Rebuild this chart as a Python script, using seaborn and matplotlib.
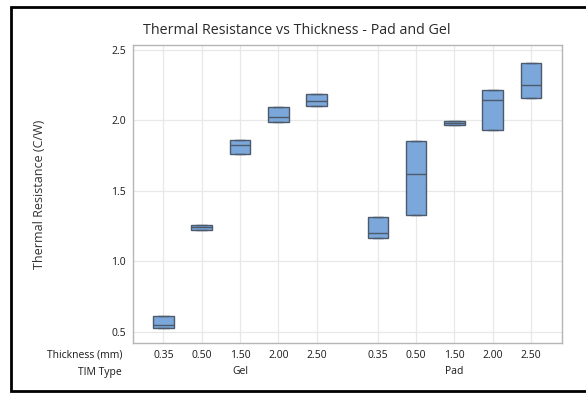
#!/usr/bin/env python3
"""
Thermal Resistance vs Thickness - Pad and Gel 箱线图
"""

import matplotlib
matplotlib.use('Agg')
import matplotlib.pyplot as plt
from matplotlib.lines import Line2D
import numpy as np
import pandas as pd
import seaborn as sns

# 数据 (从图中读取的箱体: 下四分位, 中位数, 上四分位)
tim_types = ['Gel', 'Pad']
thickness = ['0.35', '0.50', '1.50', '2.00', '2.50']

gel_q1 = [0.527, 1.220, 1.763, 1.988, 2.100]
gel_med = [0.548, 1.240, 1.827, 2.026, 2.140]
gel_q3 = [0.614, 1.259, 1.858, 2.097, 2.187]

pad_q1 = [1.168, 1.330, 1.969, 1.929, 2.159]
pad_med = [1.197, 1.616, 1.983, 2.147, 2.249]
pad_q3 = [1.313, 1.851, 1.998, 2.218, 2.407]

sns.set_style('white')
plt.rcParams['font.family'] = ['Open Sans', 'DejaVu Sans']

# 组装数据表: 每个箱体用5个值表示, 使四分位正好落在读取的位置
group_gap = 5.6
rows = []
for g, (q1s, meds, q3s) in enumerate([(gel_q1, gel_med, gel_q3), (pad_q1, pad_med, pad_q3)]):
    for i, t in enumerate(thickness):
        pos = i + g * group_gap
        for v in [q1s[i], q1s[i], meds[i], q3s[i], q3s[i]]:
            rows.append({'pos': pos, 'tim': tim_types[g], 'thickness': t, 'value': v})
df = pd.DataFrame(rows)
positions = sorted(df['pos'].unique())

fig = plt.figure(figsize=(5.86, 3.93), dpi=100)
ax = fig.add_axes([0.2265, 0.1265, 0.732, 0.759])

ax.grid(True, color='#e8e8e8', linewidth=0.9)
ax.set_axisbelow(True)

sns.boxplot(data=df, x='pos', y='value', native_scale=True, ax=ax,
            color='#7ba7da', saturation=1, width=0.54, linecolor='#4d5a6b',
            linewidth=1.0, whis=1.5, showfliers=False)

ax.set_xlim(-0.8, 4 + group_gap + 0.8)
ax.set_ylim(0.418, 2.534)
ax.set_yticks([0.5, 1.0, 1.5, 2.0, 2.5])
ax.set_yticklabels(['0.5', '1.0', '1.5', '2.0', '2.5'])
ax.set_xticks(positions)
ax.set_xticklabels(thickness * 2)
ax.tick_params(axis='x', length=0, pad=5, labelsize=7.5, labelcolor='#1a1a1a')
ax.tick_params(axis='y', length=3, width=0.8, color='#999999', pad=2,
               labelsize=7.5, labelcolor='#1a1a1a')
ax.set_xlabel('')
ax.set_ylabel('Thermal Resistance (C/W)', fontsize=9, color='#333333')
ax.yaxis.set_label_coords(-0.203, 0.5)

for sp in ax.spines.values():
    sp.set_visible(True)
    sp.set_color('#b5b5b5')
    sp.set_linewidth(1.0)

# 第二行分类标签
for g, name in enumerate(tim_types):
    center = 2 + g * group_gap
    ax.text(center, -0.093, name, transform=ax.get_xaxis_transform(),
            ha='center', va='center', fontsize=7.5, color='#1a1a1a')

fig.text(122 / 586, 1 - 355 / 393, 'Thickness (mm)', ha='right', va='center',
         fontsize=7.5, color='#1a1a1a')
fig.text(122 / 586, 1 - 372 / 393, 'TIM Type', ha='right', va='center',
         fontsize=7.5, color='#1a1a1a')

fig.text(297 / 586, 1 - 30 / 393, 'Thermal Resistance vs Thickness - Pad and Gel',
         ha='center', va='center', fontsize=10.3, color='#2a2a2a')

# 外框 (右侧没有边线)
left, top, bottom = 11 / 586, 1 - 6.7 / 393, 2.5 / 393
fig.add_artist(Line2D([1.0, left, left, 1.0], [top, top, bottom, bottom],
                      transform=fig.transFigure, color='black', linewidth=2,
                      solid_joinstyle='miter'))

fig.savefig('out.png', dpi=100)
plt.close(fig)
